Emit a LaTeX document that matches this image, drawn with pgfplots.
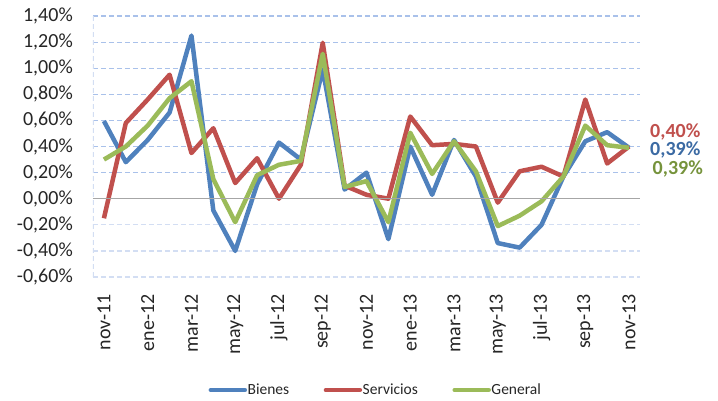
\documentclass[border=0pt]{standalone}
\usepackage{pgfplots}
\pgfplotsset{compat=1.18}
\usepackage{fontspec}
\setmainfont{Carlito}
\definecolor{cB}{HTML}{4F81BD}
\definecolor{cS}{HTML}{C0504D}
\definecolor{cG}{HTML}{9BBB59}
\definecolor{lB}{HTML}{3B6AA3}
\definecolor{lG}{HTML}{76933C}
\definecolor{gridU}{HTML}{A9C1EA}
\definecolor{gridL}{HTML}{D3DEF3}
\begin{document}
\begin{tikzpicture}
\useasboundingbox (0,0) rectangle (718pt,400pt);
\begin{axis}[
  at={(93pt,123pt)}, anchor=south west,
  scale only axis, width=547pt, height=261pt,
  xmin=-0.5, xmax=24.5, ymin=-0.6, ymax=1.4,
  axis line style={draw=none},
  tick style={draw=none},
  xtick={0,2,...,24},
  xticklabels={nov-11,ene-12,mar-12,may-12,jul-12,sep-12,nov-12,ene-13,mar-13,may-13,jul-13,sep-13,nov-13},
  xticklabel shift=17pt,
  x tick label style={rotate=90, anchor=east, inner sep=0pt, font=\fontsize{20}{22}\selectfont, text=black!85},
  ytick={0,0.2,0.4,0.6,0.8,1.0,1.2,1.4},
  yticklabels={{0,00\%},{0,20\%},{0,40\%},{0,60\%},{0,80\%},{1,00\%},{1,20\%},{1,40\%}},
  extra y ticks={-0.6,-0.4,-0.2},
  extra y tick labels={{-0,60\%},{-0,40\%},{-0,20\%}},
  extra y tick style={grid style={gridL, dash pattern=on 5pt off 3pt, line width=1.2pt}},
  y tick label style={anchor=east, inner sep=0pt, xshift=-20pt, font=\fontsize{20}{22}\selectfont, text=black!85},
  ymajorgrids,
  grid style={gridU, dash pattern=on 5pt off 3pt, line width=1.2pt},
  legend columns=3,
  legend style={at={(0.5155,-0.433)}, anchor=center, draw=none, fill=none,
    font=\fontsize{15.5}{17}\selectfont, text=black!85,
    /tikz/every even column/.append style={column sep=34pt},
    nodes={inner sep=0.5pt}},
  legend image code/.code={\draw[#1, line width=4.5pt, line cap=round] (0pt,0pt) -- (34pt,0pt);},
  every axis plot/.append style={line width=4.5pt, line join=round},
]
\draw[gridL, dash pattern=on 5pt off 3pt, line width=1.2pt] (rel axis cs:0,0) -- (rel axis cs:0,1);
\addplot[cB, mark=none] coordinates {
(0,0.595) (1,0.28) (2,0.45) (3,0.66) (4,1.25) (5,-0.09) (6,-0.40) (7,0.11) (8,0.43) (9,0.30)
(10,0.99) (11,0.07) (12,0.20) (13,-0.31) (14,0.40) (15,0.03) (16,0.45) (17,0.17) (18,-0.34)
(19,-0.375) (20,-0.20) (21,0.17) (22,0.44) (23,0.51) (24,0.39)};
\addlegendentry{Bienes}
\addplot[cS, mark=none] coordinates {
(0,-0.15) (1,0.58) (2,0.76) (3,0.95) (4,0.35) (5,0.54) (6,0.12) (7,0.31) (8,0.00) (9,0.26)
(10,1.195) (11,0.10) (12,0.03) (13,0.00) (14,0.63) (15,0.41) (16,0.42) (17,0.40) (18,-0.03)
(19,0.21) (20,0.245) (21,0.17) (22,0.76) (23,0.27) (24,0.40)};
\addlegendentry{Servicios}
\addplot[cG, mark=none] coordinates {
(0,0.30) (1,0.40) (2,0.56) (3,0.77) (4,0.90) (5,0.15) (6,-0.18) (7,0.18) (8,0.26) (9,0.29)
(10,1.11) (11,0.09) (12,0.135) (13,-0.18) (14,0.505) (15,0.19) (16,0.44) (17,0.21) (18,-0.21)
(19,-0.13) (20,-0.02) (21,0.17) (22,0.56) (23,0.41) (24,0.39)};
\addlegendentry{General}
\draw[black!35, line width=1.2pt] (axis cs:-0.5,0) -- (axis cs:24.5,0);
\end{axis}
\tikzset{endlab/.style={anchor=base west, inner sep=0pt, text height=13pt, text depth=0pt, font=\bfseries\fontsize{20}{22}\selectfont}}
\node[endlab, text=cS] at (650pt,263pt) {0,40\%};
\node[endlab, text=lB] at (650pt,244.5pt) {0,39\%};
\node[endlab, text=lG] at (652.5pt,226pt) {0,39\%};
\end{tikzpicture}
\end{document}
